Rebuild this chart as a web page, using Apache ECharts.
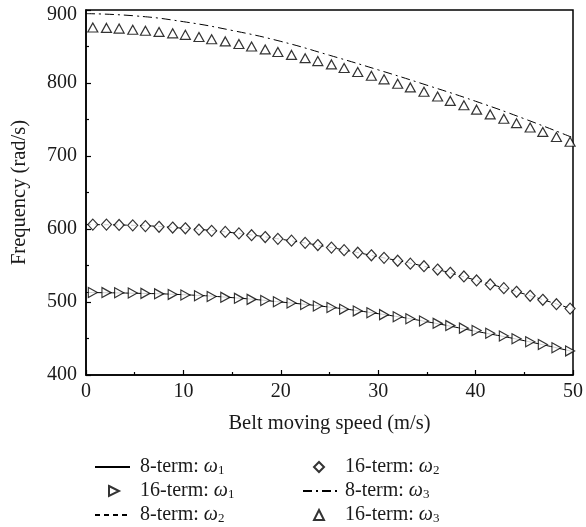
<!DOCTYPE html>
<html>
<head>
<meta charset="utf-8">
<script src="https://cdn.jsdelivr.net/npm/echarts@6/dist/echarts.min.js"></script>
<style>
  html, body { margin: 0; padding: 0; background: #fff; }
  #chart { width: 586px; height: 527px; }
</style>
</head>
<body>
<div id="chart"></div>
<script>
// 8-term results (lines)
var speedLine = [0, 5, 10, 15, 20, 25, 30, 35, 40, 45, 50];
var w1Line = [513, 512, 510, 506, 500, 493, 484, 473, 460, 447, 432];
var w2Line = [606, 605, 601, 595, 586, 575, 562, 548, 530, 511, 490];
var w3Line = [895, 892, 884, 872, 857, 838, 818, 797, 775, 751, 725];

// 16-term results (markers)
var speedPts = [0.7, 2.1, 3.4, 4.8, 6.1, 7.5, 8.9, 10.2, 11.6, 12.9, 14.3, 15.7, 17.0, 18.4,
  19.7, 21.1, 22.5, 23.8, 25.2, 26.5, 27.9, 29.3, 30.6, 32.0, 33.3, 34.7, 36.1, 37.4,
  38.8, 40.1, 41.5, 42.9, 44.2, 45.6, 46.9, 48.3, 49.7];
var w1Pts = [513, 512.9, 512.6, 512.3, 511.8, 511.2, 510.4, 509.6, 508.6, 507.6, 506.4, 505, 503.6, 502,
  500.4, 498.6, 496.6, 494.6, 492.4, 490.2, 487.8, 485.2, 482.7, 479.8, 477.1, 474, 470.8, 467.7,
  464.2, 460.9, 457.2, 453.4, 449.7, 445.6, 441.7, 437.4, 433];
var w2Pts = [606, 606, 605.5, 605, 604, 603, 602, 601, 599, 597.5, 596, 594, 591.5, 589,
  586.5, 584, 581, 578, 574.5, 571, 567.5, 564, 560.5, 556.5, 552.5, 549, 544.5, 540,
  535, 529.5, 524, 519, 514, 508.5, 503, 497, 491];
var w3Pts = [876, 875.5, 874.5, 873, 871.5, 870, 868, 866, 863, 860, 857, 853.5, 850, 846,
  842.5, 838.5, 834, 830, 825.5, 820.5, 815, 810, 805, 799, 794, 788, 781.5, 775.5,
  769.5, 763.5, 757, 751, 745, 739, 733, 726, 719.5];

function pairs(xs, ys) {
    return xs.map(function(x, i) { return [x, ys[i]]; });
}

var font = 'Liberation Serif';
var ink = '#1a1a1a';
var myChart = echarts.init(document.getElementById('chart'));

function lineSeries(name, xs, ys, dash) {
    return {
        name: name,
        type: 'line',
        smooth: true,
        symbol: 'none',
        data: pairs(xs, ys),
        lineStyle: { color: '#000', width: 1, type: dash },
        itemStyle: { color: '#000' },
        z: 2
    };
}
function markerSeries(name, xs, ys, symbol, rotate) {
    return {
        name: name,
        type: 'scatter',
        symbol: symbol,
        symbolSize: symbol === 'diamond' ? [10, 11] : [10, 9],
        symbolRotate: rotate,
        data: pairs(xs, ys),
        itemStyle: { color: '#fff', borderColor: '#000', borderWidth: 1.2 },
        z: 3
    };
}

// one legend per entry so the two columns sit where the reference has them
// x = left of a line icon / centre of a marker icon, tx = where the text starts
function legendItem(name, isLine, x, y, tx, icon) {
    var left = isLine ? x : x - 5;
    var w = isLine ? 35 : 10;
    var entry = { name: name };
    if (isLine) entry.itemStyle = { opacity: 0 };
    if (icon) entry.icon = icon;
    return {
        orient: 'vertical',
        left: left,
        top: y - 10,
        itemWidth: w,
        itemHeight: isLine ? 12 : 10,
        data: [entry],
        formatter: function(n) { return n.replace(/ω(\d)/, '{i|ω}{s|$1}'); },
        textStyle: {
            fontFamily: font, fontSize: 20, color: ink, lineHeight: 20,
            padding: [0, 0, 0, tx - (left + w + 11)],
            rich: {
                i: { fontFamily: font, fontSize: 20, fontStyle: 'italic', color: ink, lineHeight: 20 },
                s: { fontFamily: font, fontSize: 13, color: ink, verticalAlign: 'bottom', lineHeight: 13 }
            }
        }
    };
}

var option = {
    animation: false,
    grid: {
        left: 86, right: 8, top: 10, bottom: 152,
        show: true, borderColor: '#000', borderWidth: 1.5
    },
    legend: [
        legendItem('8-term: ω1', true, 89, 462, 140),
        legendItem('16-term: ω1', false, 108, 486, 140, 'path://M0,0L10,5L0,10Z'),
        legendItem('8-term: ω2', true, 89, 510, 140),
        legendItem('16-term: ω2', false, 313, 462, 345),
        legendItem('8-term: ω3', true, 297, 486, 345),
        legendItem('16-term: ω3', false, 313, 510, 345)
    ],
    xAxis: {
        type: 'value', min: 0, max: 50, interval: 10,
        name: 'Belt moving speed (m/s)', nameLocation: 'middle', nameGap: 38,
        nameTextStyle: { fontFamily: font, fontSize: 20.5, color: ink },
        axisLine: { lineStyle: { color: '#000', width: 1.5 } },
        axisTick: { inside: true, length: 5, lineStyle: { color: '#000', width: 1.2 } },
        minorTick: { show: true, splitNumber: 2, length: 3, lineStyle: { color: '#000', width: 1.2 } },
        axisLabel: { fontFamily: font, fontSize: 20, color: ink, margin: 7 },
        splitLine: { show: false }
    },
    yAxis: {
        type: 'value', min: 400, max: 900, interval: 100,
        name: 'Frequency (rad/s)', nameLocation: 'middle', nameGap: 56,
        nameTextStyle: { fontFamily: font, fontSize: 20.5, color: ink },
        axisLine: { show: true, lineStyle: { color: '#000', width: 1.5 } },
        axisTick: { show: true, inside: true, length: 5, lineStyle: { color: '#000', width: 1.2 } },
        minorTick: { show: true, splitNumber: 2, length: 3, lineStyle: { color: '#000', width: 1.2 } },
        axisLabel: {
            fontFamily: font, fontSize: 20, color: ink, margin: 9,
            // top label sits a little lower in the reference
            formatter: function(v) { return v === 900 ? '{top|900}' : String(v); },
            rich: { top: { fontFamily: font, fontSize: 20, color: ink, padding: [9, 0, 0, 0] } }
        },
        splitLine: { show: false }
    },
    series: [
        lineSeries('8-term: ω1', speedLine, w1Line, 'solid'),
        markerSeries('16-term: ω1', speedPts, w1Pts, 'triangle', -90),
        lineSeries('8-term: ω2', speedLine, w2Line, [5, 4]),
        markerSeries('16-term: ω2', speedPts, w2Pts, 'diamond', 0),
        lineSeries('8-term: ω3', speedLine, w3Line, [9, 4, 2, 4]),
        markerSeries('16-term: ω3', speedPts, w3Pts, 'triangle', 0)
    ]
};

myChart.setOption(option);
</script>
</body>
</html>
